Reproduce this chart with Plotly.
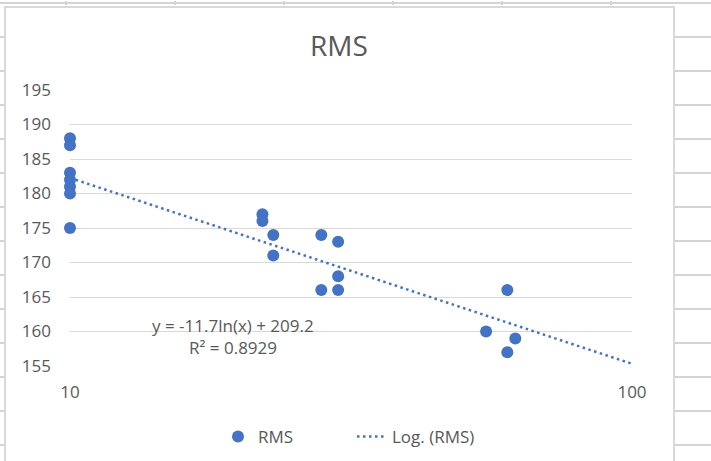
import numpy as np
import plotly.graph_objects as go

# ---- data ----
X_VALUES = [10, 10, 10, 10, 10, 10, 10, 22, 22, 23, 23, 28, 28, 30, 30, 30, 55, 60, 60, 62]
RMS_VALUES = [188, 187, 183, 182, 181, 180, 175, 177, 176, 174, 171, 174, 166, 173, 168, 166, 160, 166, 157, 159]
TREND_SLOPE = -11.7
TREND_INTERCEPT = 209.2
R_SQUARED = 0.8929
Y_TICKS = [155, 160, 165, 170, 175, 180, 185, 190, 195]
X_TICKS = [10, 100]
X_TICK_LABELS = ["10", "100"]

W, H = 711, 461
BLUE = "#4472C4"
TXT = "#595959"
FONT = "Open Sans"


def px(x):
    return x / W


def py(y):
    return 1 - y / H


trend_x = np.logspace(np.log10(X_TICKS[0]), np.log10(X_TICKS[-1]), 60)
trend_y = TREND_SLOPE * np.log(trend_x) + TREND_INTERCEPT

fig = go.Figure()
fig.add_trace(go.Scatter(
    x=X_VALUES, y=RMS_VALUES, mode="markers", name="RMS",
    marker=dict(color=BLUE, size=12, line=dict(width=0)),
    cliponaxis=False,
    legend="legend",
))
fig.add_trace(go.Scatter(
    x=trend_x, y=trend_y, mode="lines", name="Log. (RMS)",
    line=dict(color=BLUE, width=2.5, dash="2.5px,3.5px"),
    cliponaxis=False,
    legend="legend2",
))

shapes = []
grid_c = "#d4d4d4"
# spreadsheet top line
shapes.append(dict(type="line", xref="paper", yref="paper", x0=0, x1=1, y0=py(3), y1=py(3),
                   line=dict(color=grid_c, width=2), layer="below"))
for cx in [66, 175, 284, 393, 502, 611]:
    shapes.append(dict(type="line", xref="paper", yref="paper", x0=px(cx), x1=px(cx), y0=py(1), y1=py(5),
                       line=dict(color=grid_c, width=2), layer="below"))
# spreadsheet row lines outside the chart
for k in range(13):
    ry = 37 + 34 * k
    shapes.append(dict(type="line", xref="paper", yref="paper", x0=0, x1=px(5), y0=py(ry), y1=py(ry),
                       line=dict(color=grid_c, width=2), layer="below"))
    shapes.append(dict(type="line", xref="paper", yref="paper", x0=px(674), x1=1, y0=py(ry), y1=py(ry),
                       line=dict(color=grid_c, width=2), layer="below"))
# chart frame
shapes.append(dict(type="rect", xref="paper", yref="paper", x0=px(5), x1=px(674), y0=py(475), y1=py(7),
                   line=dict(color="#d9d9d9", width=2), fillcolor="white", layer="below"))

fig.update_layout(
    width=W, height=H,
    margin=dict(l=0, r=0, t=0, b=0, autoexpand=False),
    paper_bgcolor="white", plot_bgcolor="rgba(0,0,0,0)",
    font=dict(family=FONT, color=TXT, size=17),
    title=dict(text="RMS", x=px(339), y=py(46), xanchor="center", yanchor="middle",
               xref="paper", yref="paper", font=dict(size=28, color=TXT, family=FONT)),
    xaxis=dict(type="log", domain=[px(70), px(632)], range=[1, 2],
               tickvals=X_TICKS, ticktext=X_TICK_LABELS, showgrid=False, zeroline=False,
               showline=False, ticks="", ticklabelstandoff=14,
               tickfont=dict(size=17, color=TXT, family=FONT), automargin=False),
    yaxis=dict(domain=[py(366), py(90)], range=[155, 195], tickvals=Y_TICKS,
               showgrid=True, gridcolor="#d9d9d9", gridwidth=1.3, zeroline=False,
               showline=False, ticks="", ticklabelstandoff=18,
               tickfont=dict(size=17, color=TXT, family=FONT), automargin=False),
    shapes=shapes,
    showlegend=True,
    legend=dict(orientation="h", x=px(218), y=py(437), xanchor="left", yanchor="middle",
                bgcolor="rgba(0,0,0,0)", font=dict(size=17, color=TXT, family=FONT)),
    legend2=dict(orientation="h", x=px(352), y=py(437), xanchor="left", yanchor="middle",
                 bgcolor="rgba(0,0,0,0)", font=dict(size=17, color=TXT, family=FONT)),
    annotations=[
        dict(text="y = -11.7ln(x) + 209.2", x=px(233), y=py(325), xref="paper", yref="paper",
             showarrow=False, xanchor="center", yanchor="middle", font=dict(size=17, color=TXT, family=FONT)),
        dict(text=f"R² = {R_SQUARED}", x=px(233), y=py(347), xref="paper", yref="paper",
             showarrow=False, xanchor="center", yanchor="middle", font=dict(size=17, color=TXT, family=FONT)),
    ],
)

fig.write_html("out.html")
